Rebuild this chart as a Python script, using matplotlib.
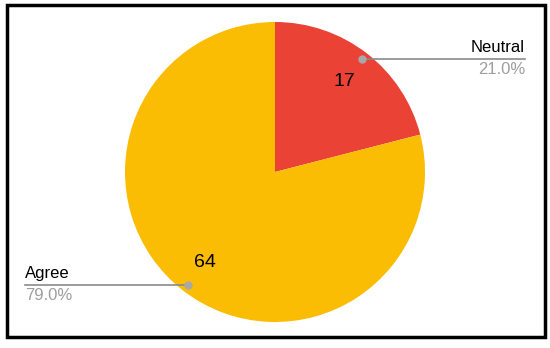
import numpy as np
import matplotlib.pyplot as plt
from matplotlib.patches import Rectangle

plt.rcParams['font.family'] = ['Liberation Sans', 'DejaVu Sans']

labels = ['Neutral', 'Agree']
counts = [17, 64]
colors = ['#EA4335', '#FBBC04']

H = 348
fig = plt.figure(figsize=(5.5, 3.48), dpi=100)
ax = fig.add_axes([0, 0, 1, 1])

cx, cy, r = 275, H - 172, 150
wedges, texts, autotexts = ax.pie(
    counts, colors=colors, startangle=90, counterclock=False,
    center=(cx, cy), radius=r, pctdistance=0.76,
    autopct=lambda p: '%d' % round(p * sum(counts) / 100),
    textprops={'fontsize': 14, 'color': 'black'},
    wedgeprops={'linewidth': 0})

ax.set_xlim(0, 550)
ax.set_ylim(0, H)
ax.set_aspect('auto')
ax.axis('off')

# leader lines and outside labels
total = sum(counts)
for w, lab, n in zip(wedges, labels, counts):
    mid = np.deg2rad((w.theta1 + w.theta2) / 2)
    dx, dy = np.cos(mid) * r * 0.95, np.sin(mid) * r * 0.95
    px, py = cx + dx, cy + dy
    pct = '%.1f%%' % (100 * n / total)
    if dx > 0:
        x_end = 525
        ha = 'right'
    else:
        x_end = 25
        ha = 'left'
    ax.plot([px, x_end], [py, py], color='#8a8a8a', lw=1.2, zorder=3)
    ax.plot(px, py, 'o', color='#a8a8a8', ms=5, zorder=4)
    ax.text(x_end, py + 4, lab, ha=ha, va='bottom', fontsize=12, color='black')
    ax.text(x_end, py - 3, pct, ha=ha, va='top', fontsize=12, color='#9e9e9e')

fig.patches.append(Rectangle((7, 11), 538, 332, transform=None, fill=False,
                             edgecolor='black', lw=2.5))

plt.savefig('out.png', dpi=100)
